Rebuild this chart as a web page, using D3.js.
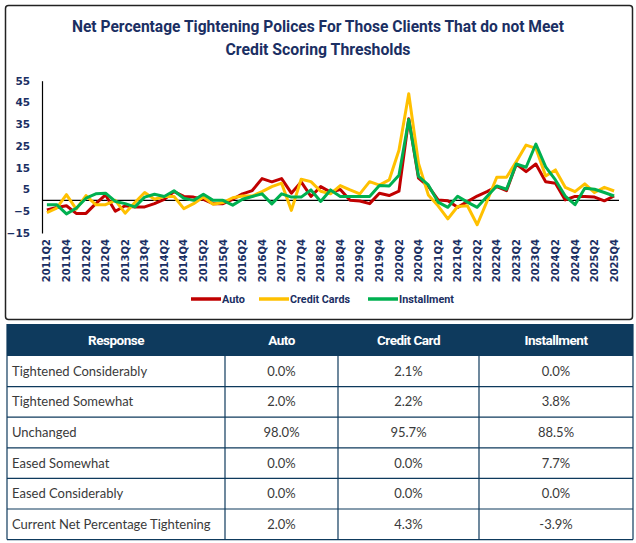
<!DOCTYPE html>
<html>
<head>
<meta charset="utf-8">
<script src="https://cdn.jsdelivr.net/npm/d3@7/dist/d3.min.js"></script>
<style>
  html, body { margin: 0; padding: 0; background: #fff; }
  svg { display: block; }
</style>
</head>
<body>
<svg id="chart" width="636" height="543"></svg>
<script>
// ---------------- DATA ----------------
const categories = [
  "2011Q2","2011Q3","2011Q4","2012Q1","2012Q2","2012Q3","2012Q4","2013Q1","2013Q2","2013Q3","2013Q4",
  "2014Q1","2014Q2","2014Q3","2014Q4","2015Q1","2015Q2","2015Q3","2015Q4","2016Q1","2016Q2","2016Q3","2016Q4",
  "2017Q1","2017Q2","2017Q3","2017Q4","2018Q1","2018Q2","2018Q3","2018Q4","2019Q1","2019Q2","2019Q3","2019Q4",
  "2020Q1","2020Q2","2020Q3","2020Q4","2021Q1","2021Q2","2021Q3","2021Q4","2022Q1","2022Q2","2022Q3","2022Q4",
  "2023Q1","2023Q2","2023Q3","2023Q4","2024Q1","2024Q2","2024Q3","2024Q4","2025Q1","2025Q2","2025Q3","2025Q4"
];
const autoValues = [
  -4.4,-3.3,-2.5,-6,-6,-1.5,2.5,-5,-2.5,-3,-3,
  -1.5,0.5,4,1.8,1.5,0.5,-1.5,-1.5,0.5,3,4.5,10,
  8.5,10,3.3,8.5,1.8,6.3,3.8,5,0,-0.3,-1.5,3.3,
  2.2,4.2,37.5,10.2,6.5,0.2,-0.2,-3.2,-0.6,2,4,6.3,
  4.5,16.7,13.2,16.7,8.6,7.9,0.2,1.8,1.8,1.5,-0.2,2.0
];
const creditCardValues = [
  -5.6,-3.6,2.6,-4,2.2,-2,-2,0,-5.9,-1,3.6,
  0.5,1.8,1.8,-3.8,-1.5,1.5,-1.8,-1,1.2,2,2,4,
  6.3,7.9,-4.6,9.7,8.6,4.2,3,6.8,4.8,3,8.6,7,
  9.4,23,49,17,2.5,-2.5,-8.5,-2.8,-2.5,-11.2,-0.5,10.6,
  10.6,17.8,25.4,23.9,11.2,14,6,4,7.6,3.6,6,4.3
];
const installmentValues = [
  -2,-2,-6.2,-3.6,1,3,3.3,-0.5,-1.5,-3,1.5,
  2.8,1.8,4.4,1,0,2.8,0,0,-2.2,0.5,1.8,3,
  -1.6,3,1.5,1.5,4.8,-0.5,4.8,1.8,1.8,1.8,1.8,6.8,
  6.6,11.5,37.2,11,7.1,-0.8,-3.2,1.9,-0.8,-3.2,1.8,6.6,
  5.1,16.7,15.2,25.9,15.4,9.4,2,-2,5.6,5.1,3.6,2
];
const seriesNames = ["Auto", "Credit Cards", "Installment"];
const seriesColors = ["#C00000", "#FFC000", "#00B050"];
const yTicks = [-15, -5, 5, 15, 25, 35, 45, 55];
const titleLines = ["Net Percentage Tightening Polices For Those Clients That do not Meet", "Credit Scoring Thresholds"];

const tableHeader = ["Response", "Auto", "Credit Card", "Installment"];
const tableRows = ["Tightened Considerably", "Tightened Somewhat", "Unchanged", "Eased Somewhat", "Eased Considerably", "Current Net Percentage Tightening"];
const tableAuto = ["0.0%", "2.0%", "98.0%", "0.0%", "0.0%", "2.0%"];
const tableCredit = ["2.1%", "2.2%", "95.7%", "0.0%", "0.0%", "4.3%"];
const tableInstallment = ["0.0%", "3.8%", "88.5%", "7.7%", "0.0%", "-3.9%"];

// ---------------- DRAW ----------------
const svg = d3.select("#chart");
const navy = "#1B2F63";

// chart frame
svg.append("rect").attr("x", 5.5).attr("y", 5.5).attr("width", 627).attr("height", 314)
  .attr("rx", 3).attr("fill", "#fff").attr("stroke", "#222").attr("stroke-width", 1.5);

// title
svg.selectAll("text.title").data(titleLines).enter().append("text")
  .attr("class", "title")
  .attr("x", 318).attr("y", (d, i) => 32 + i * 23)
  .attr("text-anchor", "middle")
  .attr("font-family", "Roboto, sans-serif").attr("font-weight", 700).attr("font-size", 16)
  .attr("textLength", (d, i) => i === 0 ? 492 : 185).attr("lengthAdjust", "spacingAndGlyphs")
  .attr("fill", navy)
  .text(d => d);

const x = d3.scaleBand().domain(categories).range([42, 619]);
const y = d3.scaleLinear().domain([-15, 55]).range([233, 80.7]);
const cx = c => x(c) + x.bandwidth() / 2;

// y axis
const yAxis = svg.append("g").attr("transform", "translate(42,0)")
  .call(d3.axisLeft(y).tickValues(yTicks).tickSize(0).tickPadding(12));
yAxis.select(".domain").attr("stroke", "#000").attr("stroke-width", 1.2);
yAxis.selectAll("text").attr("font-family", "DejaVu Sans, sans-serif").attr("font-weight", 700)
  .attr("font-size", 10.5).attr("fill", navy);

// x axis labels
const xAxis = svg.append("g").attr("transform", "translate(0,233)")
  .call(d3.axisBottom(x).tickValues(categories.filter((d, i) => i % 2 === 0)).tickSize(0));
xAxis.select(".domain").remove();
xAxis.selectAll("text")
  .attr("transform", "rotate(-90)")
  .attr("text-anchor", "end")
  .attr("x", -6).attr("y", 0).attr("dy", "0.36em")
  .attr("font-family", "DejaVu Sans, sans-serif").attr("font-weight", 700)
  .attr("font-size", 10).attr("fill", navy);

// zero line
svg.append("line").attr("x1", 42).attr("x2", 619).attr("y1", y(0)).attr("y2", y(0))
  .attr("stroke", "#000").attr("stroke-width", 1.2);

// lines
const allSeries = [autoValues, creditCardValues, installmentValues];
const line = d3.line().x((d, i) => cx(categories[i])).y(d => y(d));
svg.selectAll("path.series").data(allSeries).enter().append("path")
  .attr("class", "series")
  .attr("d", d => line(d))
  .attr("fill", "none")
  .attr("stroke", (d, i) => seriesColors[i])
  .attr("stroke-width", 3)
  .attr("stroke-linejoin", "round");

// legend
const legendX = [191, 259, 368];
const legendTextLen = [23, 60, 55];
const lg = svg.selectAll("g.legend").data(seriesNames).enter().append("g")
  .attr("class", "legend").attr("transform", (d, i) => `translate(${legendX[i]},299)`);
lg.append("line").attr("x1", 0).attr("x2", 30).attr("y1", 0).attr("y2", 0)
  .attr("stroke", (d, i) => seriesColors[i]).attr("stroke-width", 3.5);
lg.append("text").attr("x", 31).attr("y", 0).attr("dy", "0.35em")
  .attr("font-family", "Roboto, sans-serif").attr("font-weight", 700).attr("font-size", 11)
  .attr("textLength", (d, i) => legendTextLen[i]).attr("lengthAdjust", "spacingAndGlyphs")
  .attr("fill", navy).text(d => d);

// ---------------- TABLE ----------------
const tblNavy = "#0E3A5D";
const colEdges = [7, 225, 338, 479, 633];
const headerTop = 324, headerH = 32, rowH = 30.6;

svg.append("rect").attr("x", colEdges[0]).attr("y", headerTop)
  .attr("width", colEdges[4] - colEdges[0]).attr("height", headerH).attr("fill", tblNavy);

svg.selectAll("text.th").data(tableHeader).enter().append("text")
  .attr("class", "th")
  .attr("x", (d, i) => (colEdges[i] + colEdges[i + 1]) / 2)
  .attr("y", headerTop + headerH / 2 + 0.5).attr("dy", "0.35em")
  .attr("text-anchor", "middle")
  .attr("font-family", "Roboto, sans-serif").attr("font-weight", 700).attr("font-size", 13.5)
  .attr("letter-spacing", -0.5)
  .attr("fill", "#fff").text(d => d);

const rowData = tableRows.map((r, i) => [r, tableAuto[i], tableCredit[i], tableInstallment[i]]);
const bodyTop = headerTop + headerH;
const rows = svg.selectAll("g.row").data(rowData).enter().append("g")
  .attr("class", "row").attr("transform", (d, i) => `translate(0,${bodyTop + i * rowH})`);
rows.append("line").attr("x1", colEdges[0]).attr("x2", colEdges[4])
  .attr("y1", rowH).attr("y2", rowH).attr("stroke", tblNavy).attr("stroke-width", 1.2);
rows.selectAll("text").data(d => d).enter().append("text")
  .attr("x", (d, i) => i === 0 ? colEdges[0] + 5 : (colEdges[i] + colEdges[i + 1]) / 2)
  .attr("y", rowH / 2).attr("dy", "0.35em")
  .attr("text-anchor", (d, i) => i === 0 ? "start" : "middle")
  .attr("font-family", "Lato, sans-serif").attr("font-size", 13)
  .attr("fill", "#3a3a3a").text(d => d);

// vertical table lines
const tableBottom = bodyTop + tableRows.length * rowH;
svg.selectAll("line.vcol").data(colEdges).enter().append("line")
  .attr("class", "vcol")
  .attr("x1", d => d).attr("x2", d => d)
  .attr("y1", (d, i) => (i === 0 || i === 4) ? headerTop : bodyTop)
  .attr("y2", tableBottom)
  .attr("stroke", tblNavy).attr("stroke-width", 1.2);
</script>
</body>
</html>
